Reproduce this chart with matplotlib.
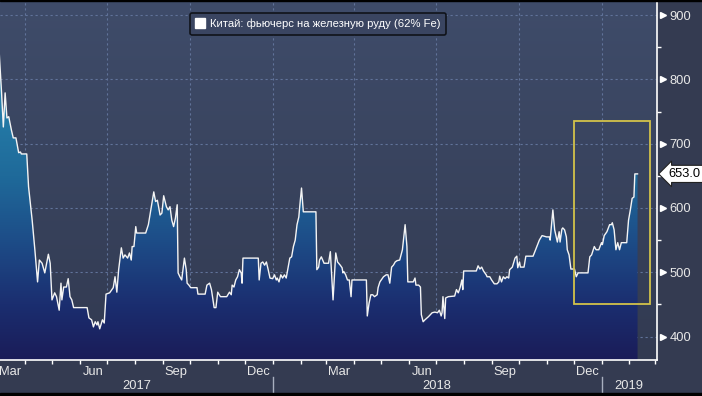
import numpy as np
import pandas as pd
import matplotlib
matplotlib.use('Agg')
import matplotlib.pyplot as plt
import matplotlib.dates as mdates
import matplotlib.transforms as mtrans
from matplotlib.colors import LinearSegmentedColormap
from matplotlib.lines import Line2D
from matplotlib.patches import Rectangle, Polygon

plt.rcParams['font.family'] = ['Liberation Sans', 'DejaVu Sans']

# ---------------- data ----------------
series_name = 'Китай: фьючерс на железную руду (62% Fe)'
base_date = '2017-03-01'
day_offsets = [
    2, 5, 7, 9, 11, 13, 16, 18, 21, 24, 26, 27, 33, 35, 39, 40, 42, 45, 47, 50,
    53, 57, 59, 61, 64, 66, 69, 71, 72, 74, 77, 79, 81, 83, 85, 100, 102, 105, 107, 109,
    111, 112, 114, 117, 119, 121, 125, 129,
    131, 133, 135, 138, 140, 142, 145, 147, 149, 150, 152, 154, 155, 165, 168, 172, 174, 176, 178, 181,
    183, 185, 188, 190, 192, 194, 196, 198, 200, 201, 203, 205, 208, 210, 211, 213, 215, 222, 223, 231,
    233, 236, 238, 241, 243, 245, 248,
    255, 258, 260, 261, 263, 265, 267, 269, 271, 272, 273, 290, 291, 293, 295, 297, 299, 301, 303, 306,
    308, 310, 311, 313, 315, 317, 319, 321, 323, 325, 327, 329, 331, 333, 335, 336, 338, 340, 354, 355,
    357, 358, 360, 363, 368, 370, 373, 376, 378, 381, 383, 384, 385, 387, 389, 391, 393, 394, 410, 411,
    413, 415, 417, 419, 422, 423, 425, 429, 432, 434, 436, 438, 440, 442, 444, 447, 450, 453, 455, 456,
    462, 464, 465, 468, 470, 471, 473, 475, 479, 483, 486, 489, 491, 493, 494, 495, 497, 498, 501, 508,
    510, 512, 514, 516, 517, 518, 532, 534, 536, 538, 540, 543, 544, 547, 549, 552, 555, 557, 558, 560,
    562, 564, 566, 568, 569, 572, 575, 577, 578, 580, 581, 585, 587, 595, 597, 600, 602, 605, 610, 613,
    614, 617, 619, 622, 624, 625, 627, 628, 630, 632, 633, 635, 637, 641, 643, 645, 656, 658, 660, 663,
    665, 668, 671, 672, 674, 677, 680, 682, 683, 685, 687, 689, 691, 693, 699, 701, 703, 705, 707, 708,
    711,
]
prices = [
    852, 780, 726, 779, 740, 742, 721, 709, 709, 686, 687, 684, 684, 633, 581, 566, 535, 485, 519, 514,
    499, 528, 514, 457, 468, 462, 441, 483, 457, 477, 477, 490, 462, 457, 445, 445, 429, 426, 415, 423,
    418, 423, 412, 426, 421, 466, 468, 476,
    493, 469, 504, 538, 522, 527, 522, 530, 519, 540, 540, 571, 561, 561, 574, 608, 625, 610, 612, 589,
    592, 619, 602, 597, 602, 581, 571, 584, 605, 499, 493, 488, 522, 504, 483, 480, 476, 476, 466, 466,
    480, 483, 473, 445, 445, 469, 462,
    462, 469, 465, 480, 477, 488, 493, 504, 499, 483, 522, 522, 488, 514, 516, 511, 516, 504, 491, 490,
    496, 488, 491, 485, 496, 491, 496, 491, 507, 522, 524, 540, 550, 574, 586, 602, 631, 594, 594, 504,
    508, 519, 524, 514, 514, 532, 457, 530, 516, 511, 507, 499, 501, 496, 488, 488, 462, 488, 488, 432,
    452, 465, 465, 462, 465, 476, 485, 493, 496, 496, 483, 508, 511, 516, 518, 519, 535, 574, 540, 485,
    485, 491, 480, 480, 477, 434, 423, 426, 431, 437, 438, 437, 441, 432, 437, 462, 428, 460, 462, 463,
    473, 468, 476, 488, 473, 502, 502, 510, 505, 508, 502, 496, 493, 493, 488, 482, 482, 485, 494, 485,
    493, 490, 493, 491, 504, 508, 522, 525, 507, 516, 508, 508, 525, 525, 532, 543, 550, 557, 555, 555,
    550, 597, 566, 547, 563, 547, 567, 569, 566, 555, 535, 527, 505, 505, 493, 499, 499, 524, 527, 540,
    535, 535, 546, 543, 557, 563, 574, 574, 577, 566, 535, 546, 535, 546, 546, 581, 597, 615, 617, 653,
    653,
]
last_value = 653.0
y_major = [400, 500, 600, 700, 800, 900]
y_minor = [450, 550, 650, 750, 850]
label_months = [3, 6, 9, 12]
year_labels = ['2017', '2018', '2019']
highlight_dates = ['2018-12-02', '2019-02-24']
highlight_values = [450, 735]
x_range_days = [3.3, 732.6]
y_range = [363.5, 923.5]

# ---------------- figure ----------------
W, H = 702, 396
fig = plt.figure(figsize=(W / 100, H / 100), dpi=100, facecolor='#343b51')
ax = fig.add_axes([0, 36 / H, 657 / W, 360 / H])
ax.set_facecolor('#363f58')

base = np.datetime64(base_date)
dates = base + np.array(day_offsets, dtype='timedelta64[D]')
xs = mdates.date2num(dates)
b0 = mdates.date2num(base)
xmin, xmax = b0 + x_range_days[0], b0 + x_range_days[1]
ymin, ymax = y_range

# background gradient
bg_cmap = LinearSegmentedColormap.from_list('bg', ['#323a51', '#3f4c6a'])
ax.imshow(np.linspace(0, 1, 256)[:, None], extent=[0, 1, 0, 1], transform=ax.transAxes,
          aspect='auto', origin='lower', cmap=bg_cmap, zorder=0)

# grid
grid_kw = dict(color='#61739a', lw=0.8, ls=(0, (2, 2.5)), zorder=0.5)
for v in y_major:
    ax.axhline(v, **grid_kw)
for d in pd.date_range('2017-04-01', '2019-01-01', freq='QS'):
    ax.axvline(mdates.date2num(d), **grid_kw)

# gradient fill under line
def frac(v):
    return (v - ymin) / (ymax - ymin)
fill_cmap = LinearSegmentedColormap.from_list('fill', [
    (0.0, '#1a1c58'), (frac(450), '#1b2e70'), (frac(550), '#1d4d88'),
    (frac(650), '#1f6a9a'), (frac(850), '#2a8cb4'), (1.0, '#2e96bb')])
verts = [(xs[0], ymin)] + list(zip(xs, prices)) + [(xs[-1], ymin)]
poly = Polygon(verts, closed=True, facecolor='none', edgecolor='none')
ax.add_patch(poly)
im = ax.imshow(np.linspace(0, 1, 512)[:, None], extent=[xs[0], xs[-1], ymin, ymax],
               aspect='auto', origin='lower', cmap=fill_cmap, zorder=1)
im.set_clip_path(poly)

ax.plot(dates, prices, color='#f4f4f4', lw=1.0, zorder=3)

# highlight rectangle
h0, h1 = mdates.date2num(np.datetime64(highlight_dates[0])), mdates.date2num(np.datetime64(highlight_dates[1]))
ax.add_patch(Rectangle((h0, highlight_values[0]), h1 - h0, highlight_values[1] - highlight_values[0],
                       fill=False, ec='#d2c24a', lw=1.3, zorder=4))

ax.set_xlim(xmin, xmax)
ax.set_ylim(ymin, ymax)

# spines
for s in ['top', 'left']:
    ax.spines[s].set_visible(False)
for s in ['bottom', 'right']:
    ax.spines[s].set_color('white')
    ax.spines[s].set_linewidth(1.2)

# y axis on right
ax.yaxis.tick_right()
ax.set_yticks(y_major)
ax.set_yticks(y_minor, minor=True)
ax.tick_params(axis='y', which='major', length=0, pad=9, labelsize=9.3, labelcolor='#e8e8e8')
ax.tick_params(axis='y', which='minor', length=3, width=1, color='white', direction='out')
tri_trans = mtrans.offset_copy(ax.get_yaxis_transform(), fig=fig, x=5.5, units='dots')
ax.plot([1] * len(y_major), y_major, ls='none', marker='>', ms=5, color='white',
        transform=tri_trans, clip_on=False, zorder=6)

# x axis
ax.xaxis.set_major_locator(mdates.MonthLocator())
ax.xaxis.set_major_formatter(plt.NullFormatter())
ax.xaxis.set_minor_locator(mdates.MonthLocator(bymonth=label_months, bymonthday=16))
ax.xaxis.set_minor_formatter(mdates.DateFormatter('%b'))
ax.tick_params(axis='x', which='major', length=3, width=1, color='white', direction='out')
ax.tick_params(axis='x', which='minor', length=0, pad=4, labelsize=9.3, labelcolor='#e8e8e8')

# year labels and separators
xt = ax.get_xaxis_transform()
bounds = [xmin, mdates.date2num(np.datetime64('2018-01-01')),
          mdates.date2num(np.datetime64('2019-01-01')), xmax]
for i, lab in enumerate(year_labels):
    ax.text((bounds[i] + bounds[i + 1]) / 2, -0.072, lab, transform=xt, ha='center', va='center',
            fontsize=9.3, color='#e8e8e8')
for bx in bounds[1:3]:
    ax.plot([bx, bx], [-0.047, -0.095], transform=xt, clip_on=False, color='#a8afbf', lw=1)

# legend
handle = Line2D([], [], ls='none', marker='s', ms=7.5, mfc='white', mec='white')
leg = ax.legend([handle], [series_name], loc='center', bbox_to_anchor=(0.484, 0.933),
                frameon=True, fancybox=True, facecolor='#3a4561', edgecolor='#10131a',
                framealpha=1, fontsize=8.1, labelcolor='white', handlelength=0.8,
                handletextpad=0.5, borderpad=0.5)
leg.get_frame().set_linewidth(1.2)

# last value tag
tag_trans = mtrans.offset_copy(ax.get_yaxis_transform(), fig=fig, x=11, units='dots')
ax.text(1, last_value, f'{last_value:.1f}', transform=tag_trans, ha='left', va='center',
        fontsize=9.3, color='black', clip_on=False, zorder=10,
        bbox=dict(boxstyle='larrow,pad=0.2', fc='white', ec='#222222', lw=0.8))

# black frame edges
fig.patches.append(Rectangle((0, 0), 1, 3 / H, transform=fig.transFigure, color='black'))
fig.patches.append(Rectangle((0, 1 - 1 / H), 1, 1 / H, transform=fig.transFigure, color='black'))

fig.savefig('out.png', dpi=100, facecolor=fig.get_facecolor())
